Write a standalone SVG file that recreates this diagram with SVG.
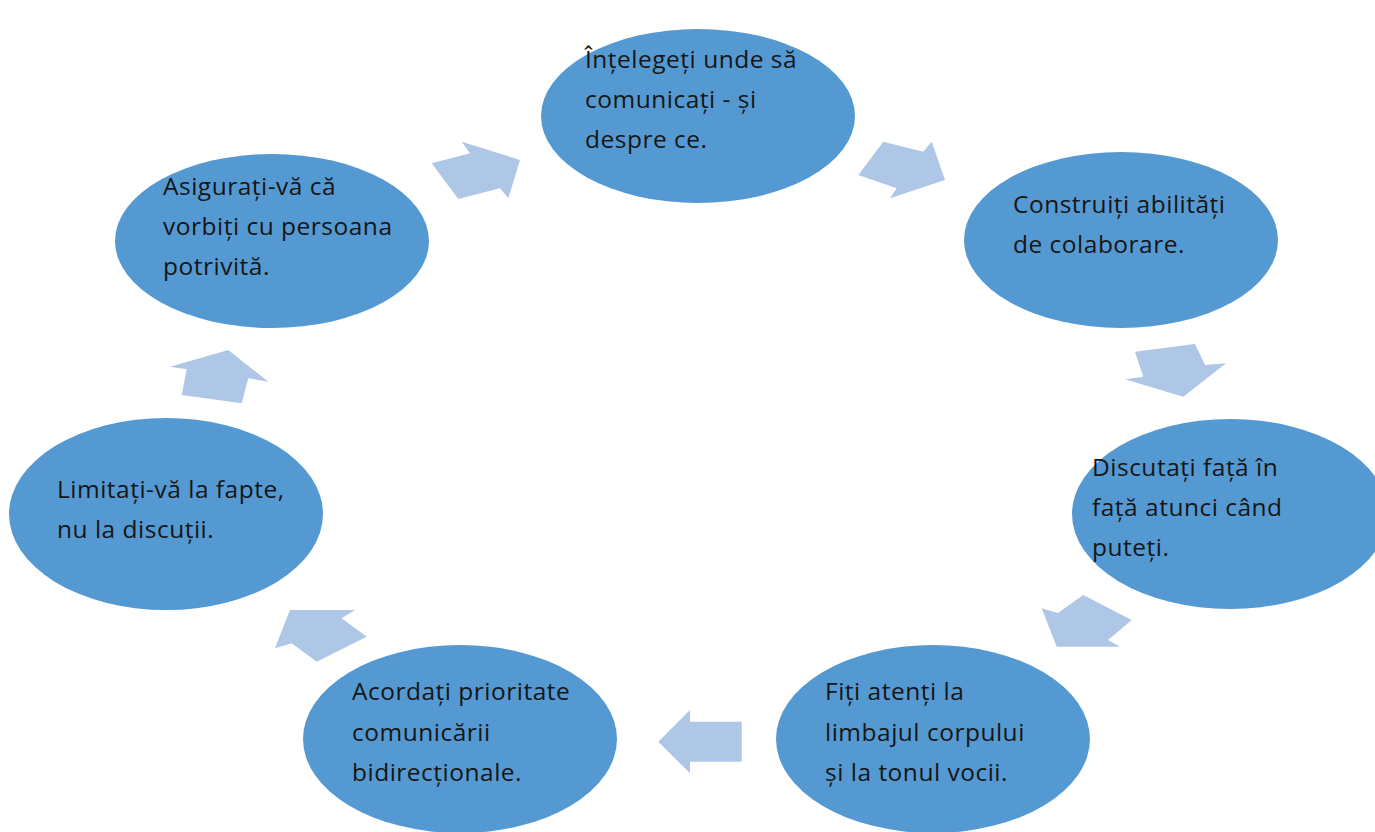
<svg xmlns="http://www.w3.org/2000/svg" width="1375" height="832" viewBox="0 0 1375 832">
  <style>
    .node { fill: #5599D2; }
    .arrow { fill: #AEC7E6; }
    .label { font-family: "Open Sans", "Noto Sans", sans-serif; font-size: 24.5px; letter-spacing: 0.5px; fill: #161616; }
  </style>
  <rect width="1375" height="832" fill="#ffffff"/>

  <!-- block arrows between the steps -->
  <g id="connectors">
    <polygon class="arrow" points="431.7,163.3 470,153.3 461.7,141.7 520,160 508.3,198.3 500,188.3 458.3,199"/>
    <polygon class="arrow" points="883.3,141.7 923.3,151.7 931.7,141.7 945,180 890,198.3 896.7,188.3 858.3,175"/>
    <polygon class="arrow" points="1135,351.7 1195,344 1205,365 1226,363.3 1183.3,396.7 1125,379.3 1143.3,376.7"/>
    <polygon class="arrow" points="1083.3,595 1131.7,620 1108,640 1120,646.7 1056.7,646.7 1041.7,608.3 1058,613"/>
    <polygon class="arrow" points="741.7,721.7 690,721.7 690,710 658.3,741.7 690,773.3 690,761.7 741.7,761.7"/>
    <polygon class="arrow" points="290,610 355,610 341.7,618.3 366.7,636.7 316.7,661.7 291.7,643.3 275,648.3"/>
    <polygon class="arrow" points="170,366.7 228.3,350 268.3,381.7 248.3,378.3 241.7,403.3 181.7,395 186.7,369.3"/>
  </g>

  <g id="step-understand">
    <ellipse class="node" cx="698" cy="116" rx="157" ry="87"/>
    <text class="label"><tspan y="68" x="585">Înțelegeți unde să</tspan><tspan y="108" x="585">comunicați - și</tspan><tspan y="148" x="585">despre ce.</tspan></text>
  </g>

  <g id="step-collaborate">
    <ellipse class="node" cx="1121" cy="240" rx="157" ry="88"/>
    <text class="label"><tspan y="213" x="1013">Construiți abilități</tspan><tspan y="253" x="1013">de colaborare.</tspan></text>
  </g>

  <g id="step-face-to-face">
    <ellipse class="node" cx="1230" cy="514" rx="158" ry="95"/>
    <text class="label"><tspan y="476" x="1092">Discutați față în</tspan><tspan y="516" x="1092">față atunci când</tspan><tspan y="556" x="1092">puteți.</tspan></text>
  </g>

  <g id="step-body-language">
    <ellipse class="node" cx="933" cy="739" rx="157" ry="94"/>
    <text class="label"><tspan y="700" x="825">Fiți atenți la</tspan><tspan y="741" x="825">limbajul corpului</tspan><tspan y="781" x="825">și la tonul vocii.</tspan></text>
  </g>

  <g id="step-two-way">
    <ellipse class="node" cx="460" cy="739" rx="157" ry="94"/>
    <text class="label"><tspan y="700" x="352">Acordați prioritate</tspan><tspan y="741" x="352">comunicării</tspan><tspan y="781" x="352">bidirecționale.</tspan></text>
  </g>

  <g id="step-facts">
    <ellipse class="node" cx="166" cy="514" rx="157" ry="96"/>
    <text class="label"><tspan y="498" x="57">Limitați-vă la fapte,</tspan><tspan y="538" x="57">nu la discuții.</tspan></text>
  </g>

  <g id="step-right-person">
    <ellipse class="node" cx="272" cy="241" rx="157" ry="87"/>
    <text class="label"><tspan y="195" x="163">Asigurați-vă că</tspan><tspan y="235" x="163">vorbiți cu persoana</tspan><tspan y="275" x="163">potrivită.</tspan></text>
  </g>
</svg>
